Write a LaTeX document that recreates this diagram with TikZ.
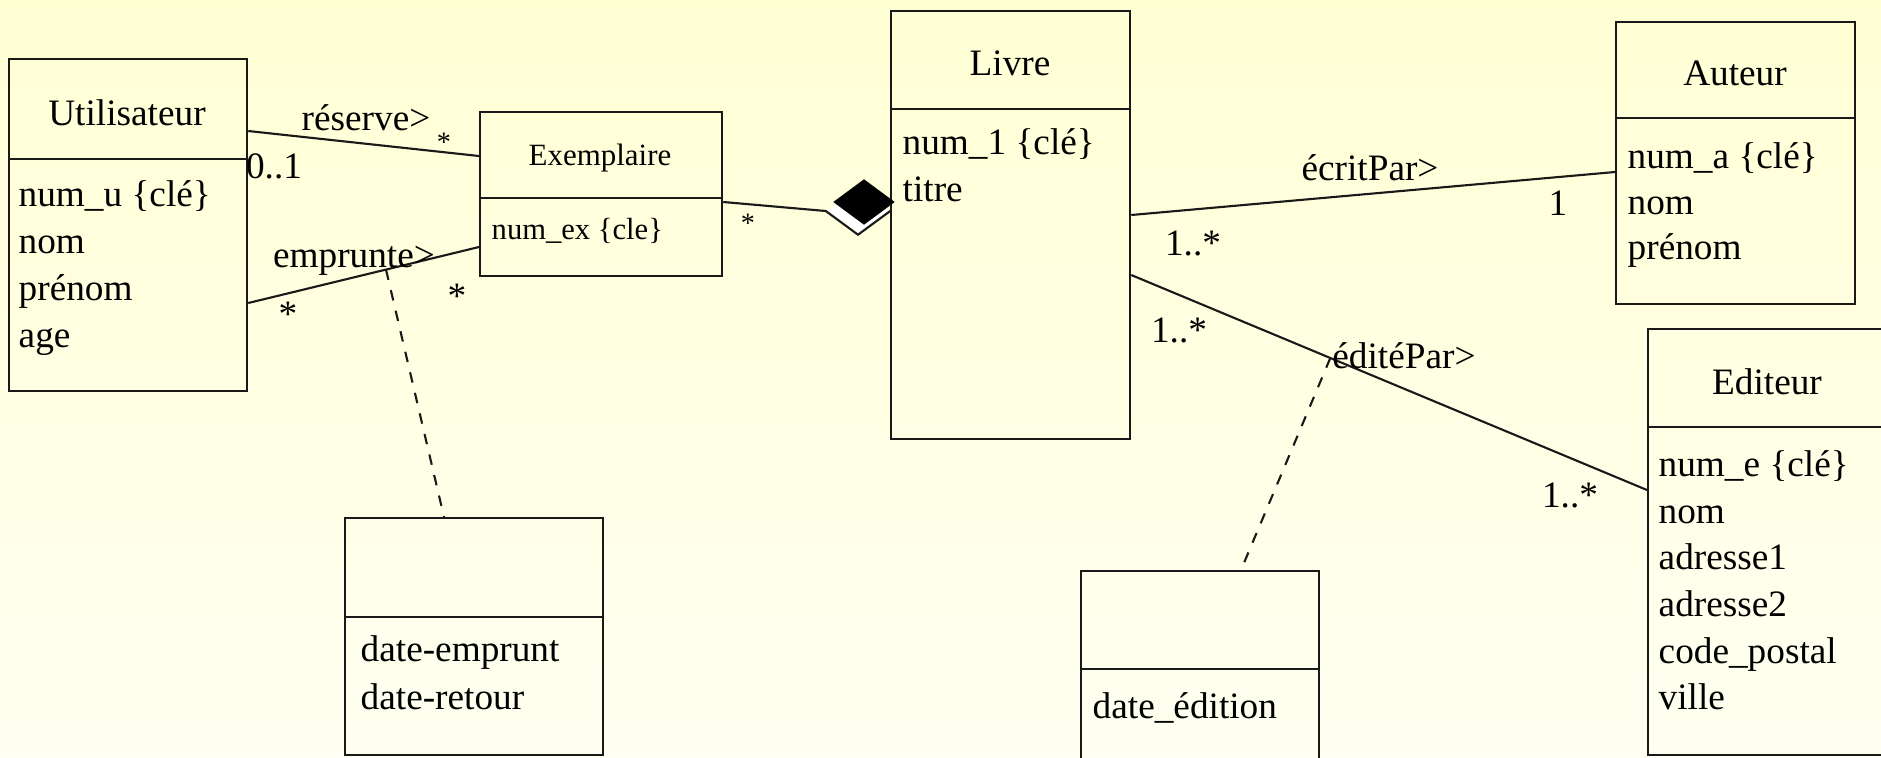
\documentclass[tikz,border=0pt]{standalone}
\usepackage{fontspec}
\setmainfont{Liberation Serif}
\usetikzlibrary{calc,positioning,shapes.geometric}
\definecolor{paletop}{RGB}{255,255,212}
\definecolor{palebottom}{RGB}{255,255,242}
\definecolor{inkgray}{RGB}{25,25,25}

\tikzset{
  classbox/.style={draw=inkgray, line width=0.6pt, anchor=north west, inner sep=0pt},
  classtitle/.style={inner sep=0pt, yshift=-1pt, font=\fontsize{10.6}{13}\selectfont},
  attr/.style={anchor=mid west, inner sep=0pt, yshift=-1pt, font=\fontsize{10.6}{13}\selectfont},
  multlabel/.style={anchor=mid, inner sep=0pt, yshift=-0.7pt, font=\fontsize{10.6}{13}\selectfont},
  smallstar/.style={anchor=mid, inner sep=0pt, yshift=-0.7pt, font=\fontsize{8}{10}\selectfont},
  assoc/.style={draw=inkgray, line width=0.6pt},
  dashlink/.style={draw=inkgray, line width=0.6pt, dash pattern=on 3pt off 3pt},
}

\begin{document}
\begin{tikzpicture}[x=0.01cm,y=-0.01cm]
    % Background
    \useasboundingbox (0,0) rectangle (1881,757);
    \clip (0,0) rectangle (1881,757);
    \shade[top color=paletop, bottom color=palebottom] (0,0) rectangle (1881,757);

    % Class boxes
    \node[classbox, minimum width=2.38cm, minimum height=3.32cm] (util) at (8,58) {};
    \node[classbox, minimum width=2.42cm, minimum height=1.64cm] (exem) at (479,111) {};
    \node[classbox, minimum width=2.39cm, minimum height=4.28cm] (livre) at (890,10) {};
    \node[classbox, minimum width=2.39cm, minimum height=2.82cm] (auteur) at (1615,21) {};
    \node[classbox, minimum width=2.39cm, minimum height=4.26cm] (editeur) at (1647,328) {};
    \node[classbox, minimum width=2.58cm, minimum height=2.37cm] (emprunt) at (344,517) {};
    \node[classbox, minimum width=2.38cm, minimum height=2.40cm] (edition) at (1080,570) {};

    % Compartment lines
    \draw[assoc] (util.west |- 0,159) -- (util.east |- 0,159);
    \draw[assoc] (exem.west |- 0,198) -- (exem.east |- 0,198);
    \draw[assoc] (livre.west |- 0,109) -- (livre.east |- 0,109);
    \draw[assoc] (auteur.west |- 0,118) -- (auteur.east |- 0,118);
    \draw[assoc] (editeur.west |- 0,427) -- (editeur.east |- 0,427);
    \draw[assoc] (emprunt.west |- 0,617) -- (emprunt.east |- 0,617);
    \draw[assoc] (edition.west |- 0,669) -- (edition.east |- 0,669);

    % Class names
    \node[classtitle] (util-t) at (127,109) {Utilisateur};
    \node[classtitle, font=\fontsize{8.8}{11}\selectfont] (exem-t) at (600,155) {Exemplaire};
    \node[classtitle] (livre-t) at (1010,60) {Livre};
    \node[classtitle] (auteur-t) at (1735,70) {Auteur};
    \node[classtitle] (editeur-t) at (1767,378) {Editeur};

    % Attributes
    \foreach \a [count=\i from 0] in {num\_u \{clé\}, nom, prénom, age}
        \node[attr] (util-a\i) at (18,{195+47*\i}) {\a};
    \node[attr, font=\fontsize{8.7}{11}\selectfont] (exem-a0) at (491,228) {num\_ex \{cle\}};
    \foreach \a [count=\i from 0] in {num\_1 \{clé\}, titre}
        \node[attr] (livre-a\i) at (902,{143+47*\i}) {\a};
    \foreach \a [count=\i from 0] in {num\_a \{clé\}, nom, prénom}
        \node[attr] (auteur-a\i) at (1627,{157+45.5*\i}) {\a};
    \foreach \a [count=\i from 0] in {num\_e \{clé\}, nom, adresse1, adresse2, code\_postal, ville}
        \node[attr] (editeur-a\i) at (1658,{465+46.6*\i}) {\a};
    \foreach \a [count=\i from 0] in {date-emprunt, date-retour}
        \node[attr] (emprunt-a\i) at (360,{650+48*\i}) {\a};
    \node[attr] (edition-a0) at (1092,707) {date\_édition};

    % Associations
    \draw[assoc] (util.east |- 0,131) -- (exem.west |- 0,156);
    \draw[assoc] (util.east |- 0,303) -- coordinate[pos=0.597] (emp-mid) (exem.west |- 0,247);
    \draw[assoc] (livre.east |- 0,215) -- (auteur.west |- 0,172);
    \draw[assoc] (livre.east |- 0,275) -- coordinate[pos=0.386] (edit-mid) (editeur.west |- 0,490);

    % Association classes
    \draw[dashlink] (emp-mid) -- (emprunt.north -| 444,0);
    \draw[dashlink] (edit-mid) -- (edition.north -| 1241,0);

    % Composition diamond
    \node[diamond, fill=white, minimum width=0.63cm, minimum height=0.46cm, inner sep=0pt] (compo-shadow) at (858,211) {};
    \draw[assoc] (exem.east |- 0,202) -- (compo-shadow.west) -- (compo-shadow.south) -- (compo-shadow.east);
    \node[diamond, fill=black, minimum width=0.62cm, minimum height=0.46cm, inner sep=0pt] (compo) at (864,202) {};

    % Role names and multiplicities
    \node[multlabel] (res-lbl) at (366,120) {réserve>};
    \node[smallstar] (res-m1) at (444,141) {*};
    \node[multlabel] (res-m2) at (274,168) {0..1};
    \node[multlabel] (emp-lbl) at (354,257) {emprunte>};
    \node[multlabel] (emp-m1) at (288,316) {*};
    \node[multlabel] (emp-m2) at (457,298) {*};
    \node[smallstar] (compo-m) at (748,222) {*};
    \node[multlabel] (ecr-lbl) at (1370,170) {écritPar>};
    \node[multlabel] (ecr-m1) at (1558,205) {1};
    \node[multlabel] (ecr-m2) at (1193,245) {1..*};
    \node[multlabel] (edi-lbl) at (1404,358) {éditéPar>};
    \node[multlabel] (edi-m1) at (1179,332) {1..*};
    \node[multlabel] (edi-m2) at (1570,497) {1..*};
\end{tikzpicture}
\end{document}
